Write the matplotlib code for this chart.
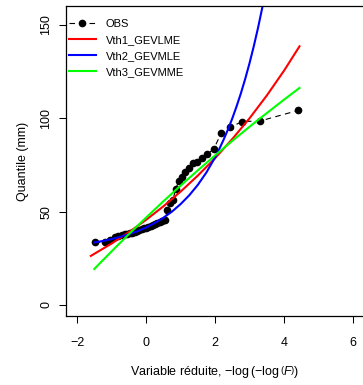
import numpy as np
import matplotlib
matplotlib.use("Agg")
import matplotlib.pyplot as plt

plt.rcParams["font.family"] = ["Liberation Sans", "DejaVu Sans"]
plt.rcParams["mathtext.fontset"] = "custom"
plt.rcParams["mathtext.rm"] = "Liberation Sans"
plt.rcParams["mathtext.it"] = "Liberation Sans:italic"

# observations (reduced Gumbel variate, quantile in mm)
obs_x = [-1.49, -1.20, -1.04, -0.91, -0.80, -0.71, -0.62, -0.54, -0.47, -0.40,
         -0.33, -0.26, -0.19, -0.13, -0.06, 0.00, 0.07, 0.13, 0.20, 0.27,
         0.33, 0.40, 0.47, 0.55, 0.62, 0.70, 0.78, 0.86, 0.95, 1.04,
         1.14, 1.25, 1.36, 1.49, 1.62, 1.78, 1.96, 2.18, 2.44, 2.79,
         3.31, 4.42]
obs_y = [33.6, 33.6, 35.0, 36.5, 37.2, 37.5, 37.8, 38.2, 38.5, 38.8,
         39.2, 39.6, 40.0, 40.5, 41.0, 41.3, 41.8, 42.3, 42.8, 43.3,
         43.8, 44.3, 44.8, 45.5, 51.0, 54.5, 56.5, 62.0, 66.5, 68.5,
         71.0, 73.5, 76.0, 76.5, 78.5, 81.0, 83.5, 92.0, 95.2, 98.3,
         98.6, 104.3]

# fitted quantile curves
lme_x = [-1.6, -1.0, -0.5, 0.0, 0.5, 1.0, 1.5, 2.0, 2.5, 3.0, 3.5, 4.0, 4.45]
lme_y = [26.3, 32.9, 39.0, 45.6, 52.8, 60.7, 69.3, 78.6, 88.9, 100.0, 112.2, 125.5, 138.6]

mle_x = [-1.5, -1.25, -1.0, -0.75, -0.5, -0.25, 0.0, 0.25, 0.5, 0.75, 1.0,
         1.25, 1.5, 1.75, 2.0, 2.125, 2.25, 2.375, 2.5, 2.625, 2.75, 2.875,
         3.0, 3.125, 3.25, 3.375, 3.5]
mle_y = [33.5, 34.3, 35.3, 36.5, 37.9, 39.5, 41.5, 43.9, 46.7, 50.0, 54.0,
         58.7, 64.3, 71.0, 79.0, 83.6, 88.6, 94.0, 99.9, 106.4, 113.4, 121.1,
         129.5, 138.7, 148.7, 159.7, 171.6]

mme_x = [-1.5, -1.0, -0.5, 0.0, 0.5, 1.0, 1.5, 2.0, 2.5, 3.0, 3.5, 4.0, 4.45]
mme_y = [19.3, 28.7, 37.9, 46.8, 55.5, 63.9, 72.1, 80.1, 87.9, 95.5, 102.8, 110.0, 116.3]

W, H = 363, 385
fig = plt.figure(figsize=(W / 100, H / 100), dpi=100)
ax = fig.add_axes([66 / W, (H - 316) / H, 298 / W, 310 / H])

ax.plot(obs_x, obs_y, color="black", lw=0.8, linestyle=(0, (5, 4)),
        marker="o", ms=4.5, label="OBS")
ax.plot(lme_x, lme_y, color="#ff0000", lw=1.5, label="Vth1_GEVLME")
ax.plot(mle_x, mle_y, color="#0000ff", lw=1.5, label="Vth2_GEVMLE")
ax.plot(mme_x, mme_y, color="#00ff00", lw=1.5, label="Vth3_GEVMME")

ax.set_xlim(-2.32, 6.32)
ax.set_ylim(-5.9, 160.2)
ax.set_xticks([-2, 0, 2, 4, 6])
ax.set_yticks([0, 50, 100, 150])
ax.set_yticklabels(["0", "50", "100", "150"], rotation=90, va="center")
ax.tick_params(axis="both", direction="out", length=5, width=0.75,
               labelsize=9, color="black")
ax.tick_params(axis="x", pad=10)
ax.tick_params(axis="y", pad=5)
for s in ax.spines.values():
    s.set_linewidth(0.9)

ax.set_xlabel(r"Variable réduite, $-\log\left(-\log\left(F\right)\right)$",
              fontsize=9, labelpad=11)
ax.set_ylabel("Quantile (mm)", fontsize=9, labelpad=8)

fig.legend(loc="upper left", bbox_to_anchor=(69 / W, 1 - 19 / H),
           frameon=False, fontsize=8, handlelength=2.4, handletextpad=0.9,
           labelspacing=0.55, borderpad=0, borderaxespad=0, numpoints=1)

fig.savefig("out.png", dpi=100)
